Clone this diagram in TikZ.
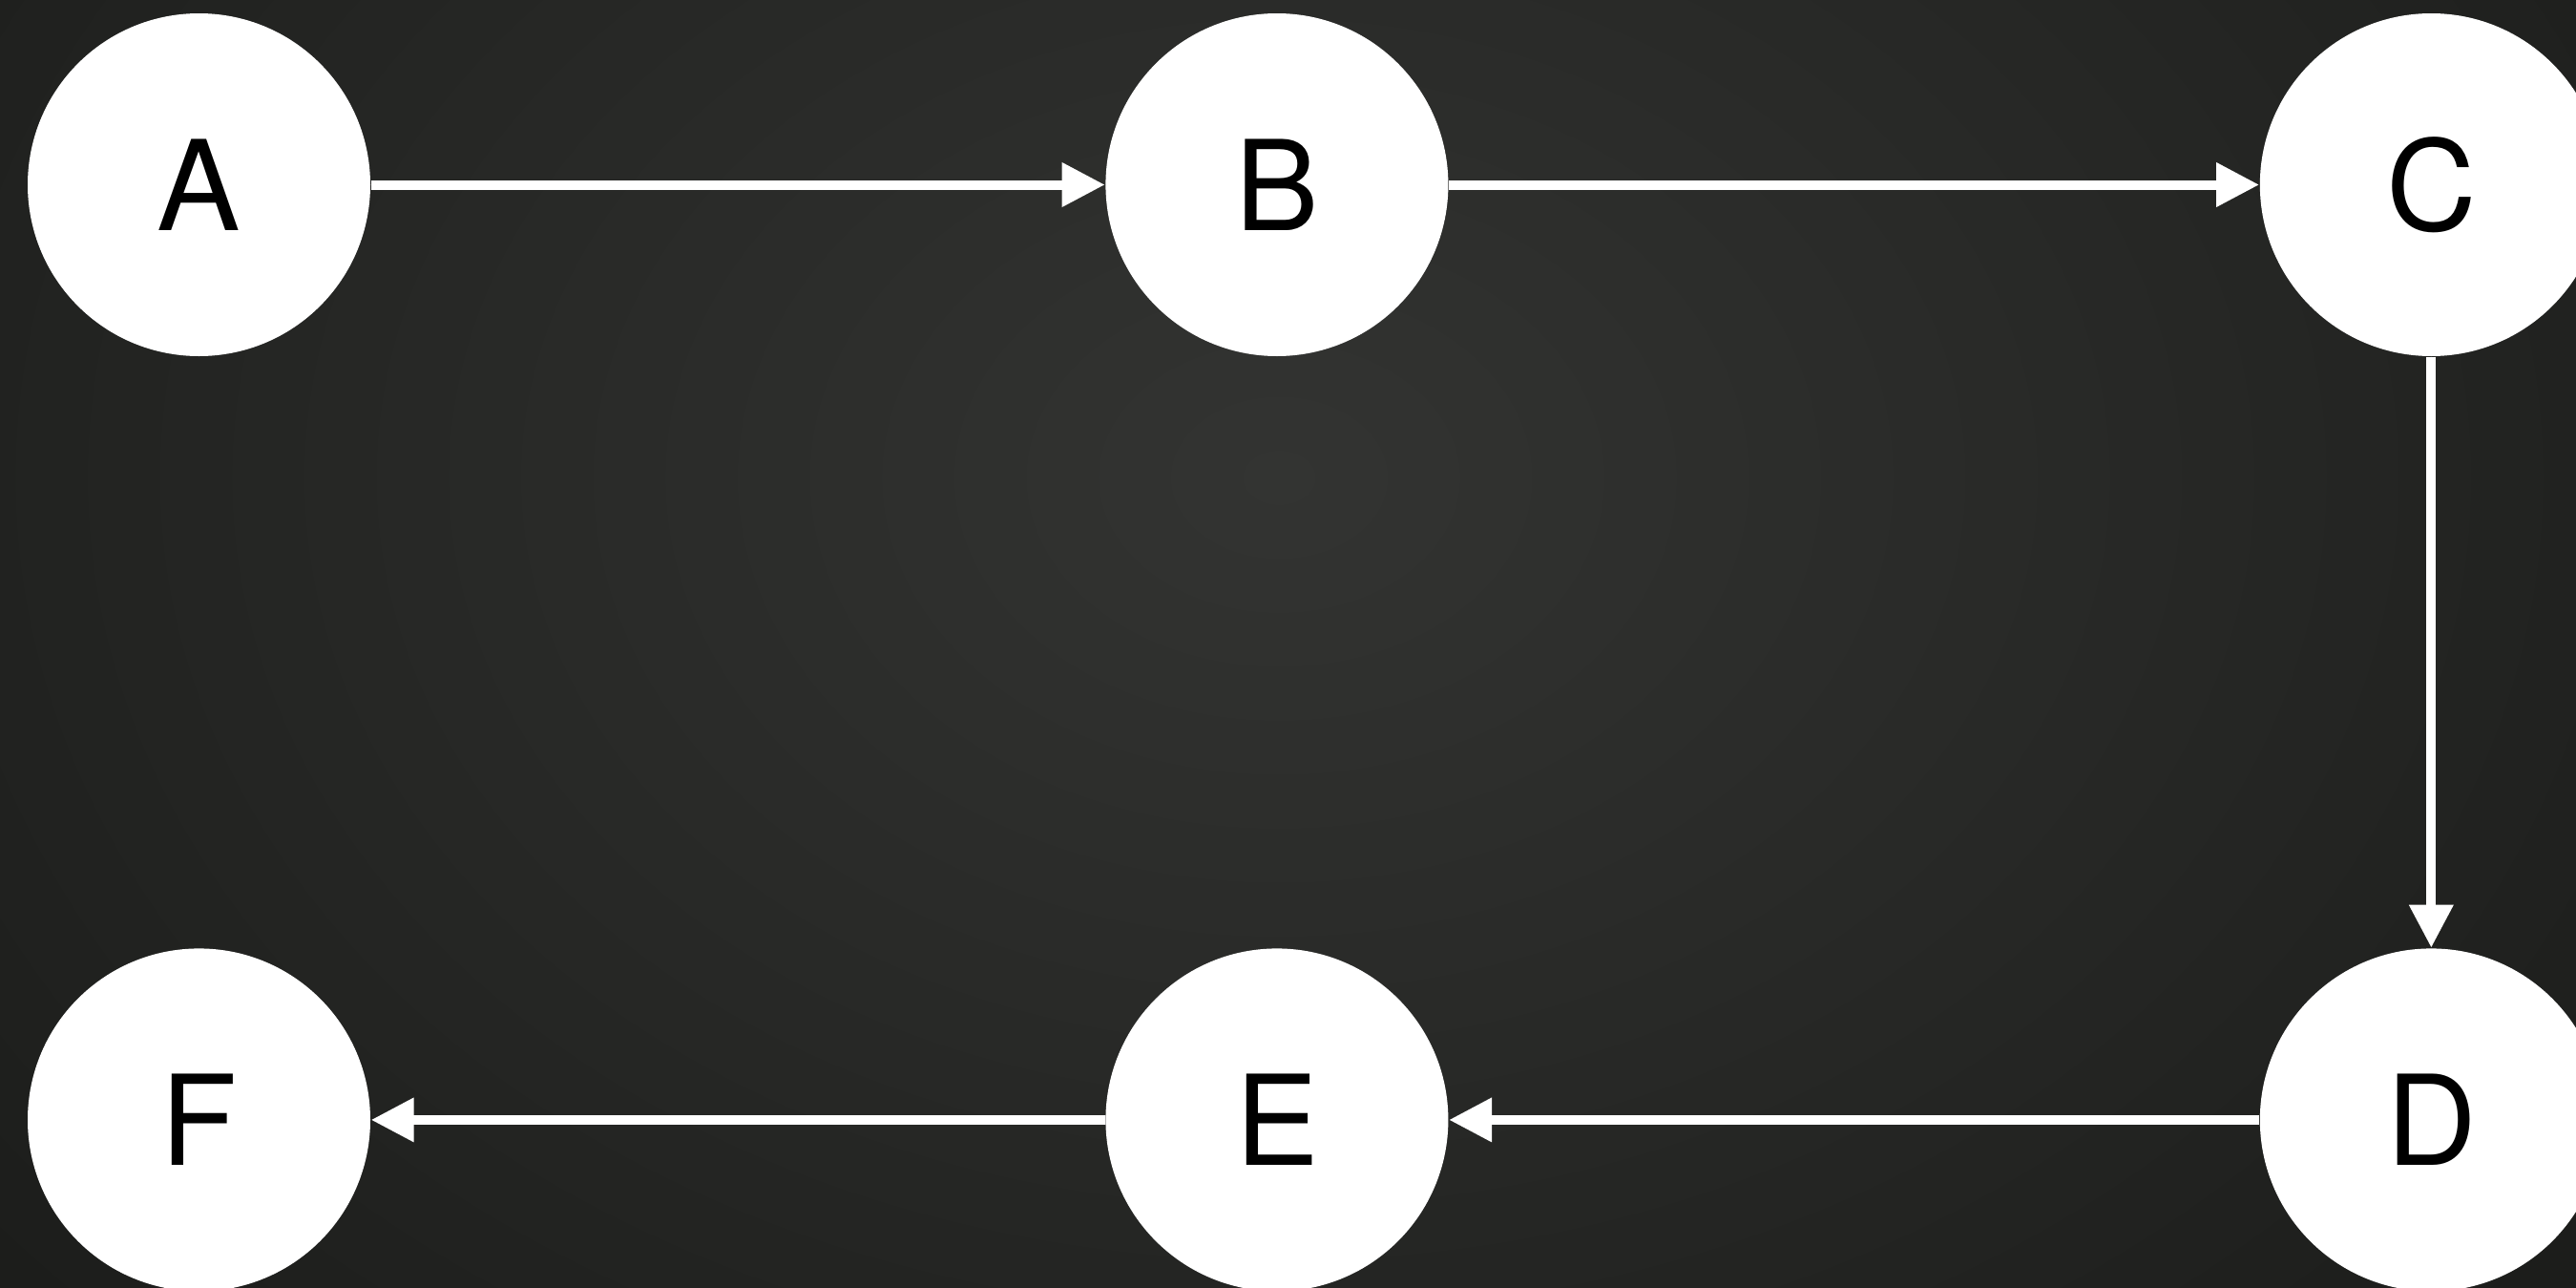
\documentclass[tikz,border=0pt]{standalone}
\usepackage{fontspec}
\setmainfont{TeX Gyre Heros}
\usetikzlibrary{arrows.meta, positioning}
\definecolor{bginner}{RGB}{51,52,50}
\definecolor{bgouter}{RGB}{28,29,27}
\tikzstyle{state} = [
  circle,
  minimum size=3.59cm,
  inner sep=0pt,
  fill=white,
  text=black,
  font=\fontsize{37.3}{45}\selectfont
]
\tikzstyle{arrow} = [white, line width=1mm, -{Triangle[length=4.5mm, width=4.4mm]}]

\begin{document}
\begin{tikzpicture}
    \useasboundingbox (0,0) rectangle (26.99,-13.48);
    \clip (0,0) rectangle (26.99,-13.48);
    \shade [inner color=bginner, outer color=bgouter] (-4,8) rectangle (30.8,-18);

    \node (A) [state] at (2.085,-1.935) {A};
    \node (B) [state, right=7.69cm of A] {B};
    \node (C) [state, right=8.49cm of B] {C};
    \node (D) [state, below=6.19cm of C] {D};
    \node (E) [state, left=8.49cm of D] {E};
    \node (F) [state, left=7.69cm of E] {F};

    \draw [arrow] (A) -- (B);
    \draw [arrow] (B) -- (C);
    \draw [arrow] (C) -- (D);
    \draw [arrow] (D) -- (E);
    \draw [arrow] (E) -- (F);
\end{tikzpicture}
\end{document}
